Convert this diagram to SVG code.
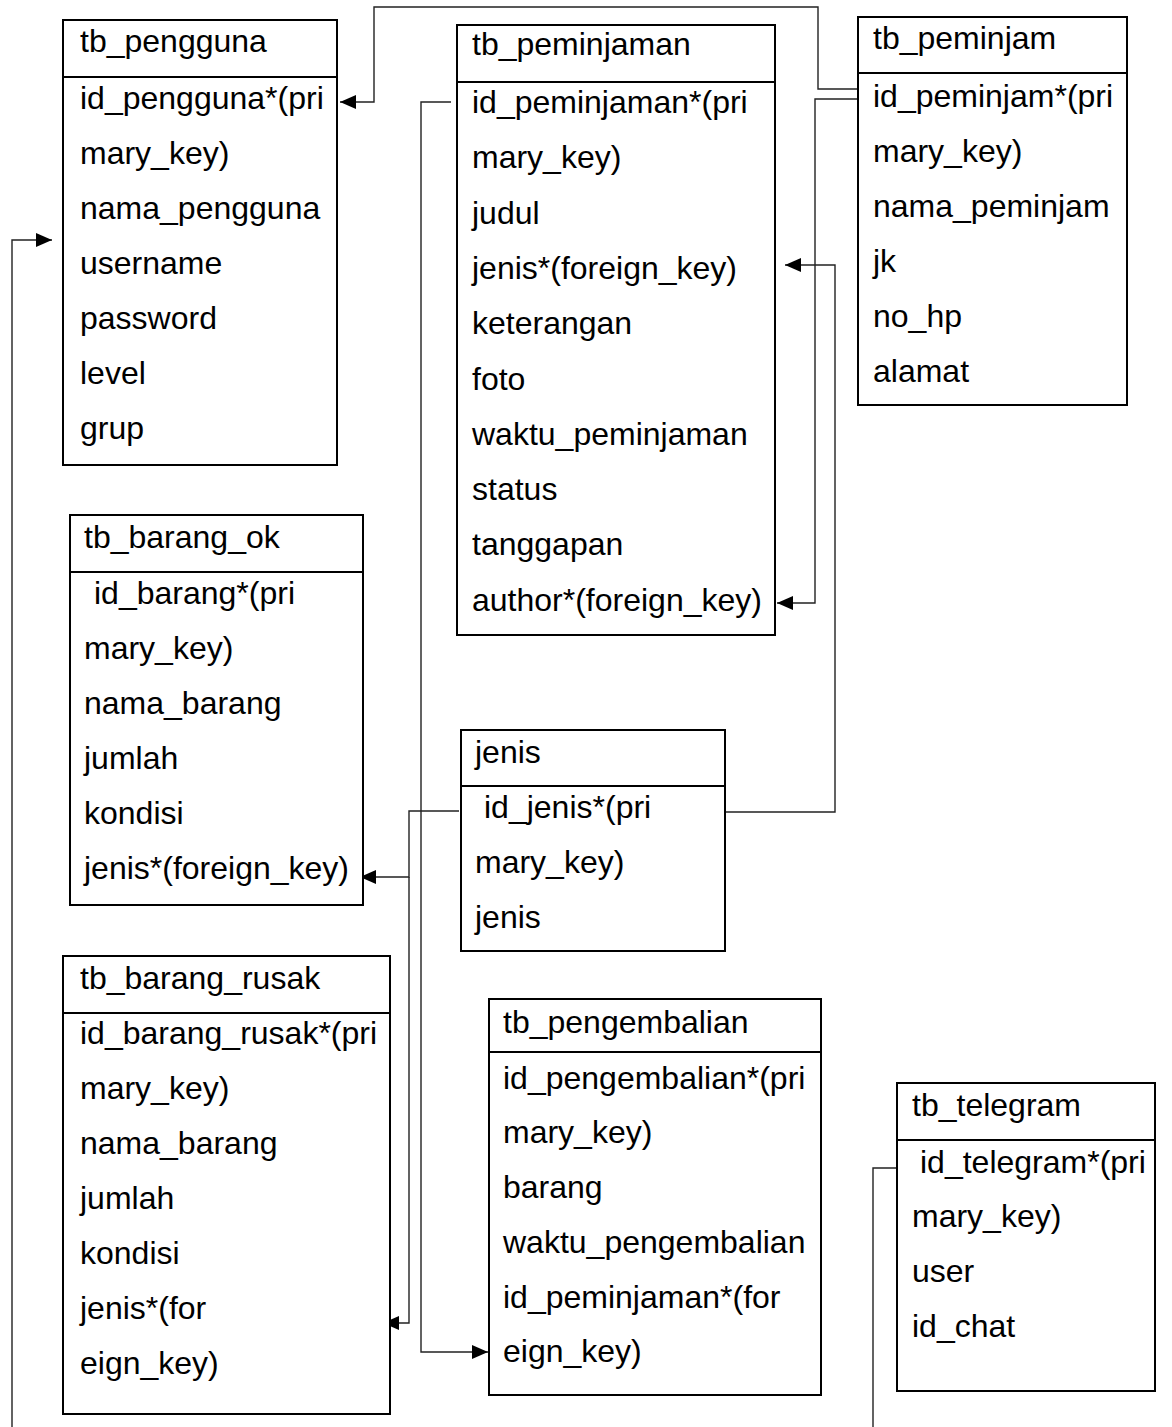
<svg xmlns="http://www.w3.org/2000/svg" width="1172" height="1427" viewBox="0 0 1172 1427">
<defs>
<marker id="arr" markerUnits="userSpaceOnUse" markerWidth="17" markerHeight="14" refX="16" refY="7" orient="auto">
<path d="M0,0 L16,7 L0,14 z" fill="#000"/>
</marker>
<style>
.box{fill:#fff;stroke:#000;stroke-width:2}
.div{stroke:#000;stroke-width:2}
text{font-family:"Liberation Sans",Arial,sans-serif;font-size:32px;fill:#000}
.c{fill:none;stroke:#222;stroke-width:1.4}
.ca{fill:none;stroke:#222;stroke-width:1.4;marker-end:url(#arr)}
</style>
</defs>
<rect width="1172" height="1427" fill="#fff"/>

<g id="connectors">
<polyline class="ca" points="858,89 818,89 818,7 374,7 374,102 340,102"/>
<polyline class="ca" points="858,99 815,99 815,603 777,603"/>
<polyline class="ca" points="451,102 421,102 421,1352 488,1352"/>
<polyline class="ca" points="725,812 835,812 835,265 785,265"/>
<polyline class="ca" points="459,811 409,811 409,877 360,877"/>
<polyline class="ca" points="409,877 409,1323 383,1323"/>
<polyline class="ca" points="12,1427 12,240 52,240"/>
<polyline class="c" points="897,1168 873,1168 873,1427"/>
</g>

<g id="tb_pengguna">
<rect class="box" x="63" y="20" width="274" height="445"/>
<line class="div" x1="63" y1="77" x2="337" y2="77"/>
<text x="80" y="52">tb_pengguna</text>
<text x="80" y="109">id_pengguna*(pri</text>
<text x="80" y="164">mary_key)</text>
<text x="80" y="219">nama_pengguna</text>
<text x="80" y="274">username</text>
<text x="80" y="329">password</text>
<text x="80" y="384">level</text>
<text x="80" y="439">grup</text>
</g>

<g id="tb_peminjaman">
<rect class="box" x="457" y="25" width="318" height="610"/>
<line class="div" x1="457" y1="82" x2="775" y2="82"/>
<text x="472" y="55">tb_peminjaman</text>
<text x="472" y="113">id_peminjaman*(pri</text>
<text x="472" y="168">mary_key)</text>
<text x="472" y="224">judul</text>
<text x="472" y="279">jenis*(foreign_key)</text>
<text x="472" y="334">keterangan</text>
<text x="472" y="390">foto</text>
<text x="472" y="445">waktu_peminjaman</text>
<text x="472" y="500">status</text>
<text x="472" y="555">tanggapan</text>
<text x="472" y="611">author*(foreign_key)</text>
</g>

<g id="tb_peminjam">
<rect class="box" x="858" y="17" width="269" height="388"/>
<line class="div" x1="858" y1="73" x2="1127" y2="73"/>
<text x="873" y="49">tb_peminjam</text>
<text x="873" y="107">id_peminjam*(pri</text>
<text x="873" y="162">mary_key)</text>
<text x="873" y="217">nama_peminjam</text>
<text x="873" y="272">jk</text>
<text x="873" y="327">no_hp</text>
<text x="873" y="382">alamat</text>
</g>

<g id="tb_barang_ok">
<rect class="box" x="70" y="515" width="293" height="390"/>
<line class="div" x1="70" y1="572" x2="363" y2="572"/>
<text x="84" y="548">tb_barang_ok</text>
<text x="94" y="604">id_barang*(pri</text>
<text x="84" y="659">mary_key)</text>
<text x="84" y="714">nama_barang</text>
<text x="84" y="769">jumlah</text>
<text x="84" y="824">kondisi</text>
<text x="84" y="879">jenis*(foreign_key)</text>
</g>

<g id="jenis">
<rect class="box" x="461" y="730" width="264" height="221"/>
<line class="div" x1="461" y1="786" x2="725" y2="786"/>
<text x="475" y="763">jenis</text>
<text x="484" y="818">id_jenis*(pri</text>
<text x="475" y="873">mary_key)</text>
<text x="475" y="928">jenis</text>
</g>

<g id="tb_barang_rusak">
<rect class="box" x="63" y="956" width="327" height="458"/>
<line class="div" x1="63" y1="1013" x2="390" y2="1013"/>
<text x="80" y="989">tb_barang_rusak</text>
<text x="80" y="1044">id_barang_rusak*(pri</text>
<text x="80" y="1099">mary_key)</text>
<text x="80" y="1154">nama_barang</text>
<text x="80" y="1209">jumlah</text>
<text x="80" y="1264">kondisi</text>
<text x="80" y="1319">jenis*(for</text>
<text x="80" y="1374">eign_key)</text>
</g>

<g id="tb_pengembalian">
<rect class="box" x="489" y="999" width="332" height="396"/>
<line class="div" x1="489" y1="1052" x2="821" y2="1052"/>
<text x="503" y="1033">tb_pengembalian</text>
<text x="503" y="1089">id_pengembalian*(pri</text>
<text x="503" y="1143">mary_key)</text>
<text x="503" y="1198">barang</text>
<text x="503" y="1253">waktu_pengembalian</text>
<text x="503" y="1308">id_peminjaman*(for</text>
<text x="503" y="1362">eign_key)</text>
</g>

<g id="tb_telegram">
<rect class="box" x="897" y="1083" width="258" height="308"/>
<line class="div" x1="897" y1="1140" x2="1155" y2="1140"/>
<text x="912" y="1116">tb_telegram</text>
<text x="920" y="1173">id_telegram*(pri</text>
<text x="912" y="1227">mary_key)</text>
<text x="912" y="1282">user</text>
<text x="912" y="1337">id_chat</text>
</g>
</svg>
